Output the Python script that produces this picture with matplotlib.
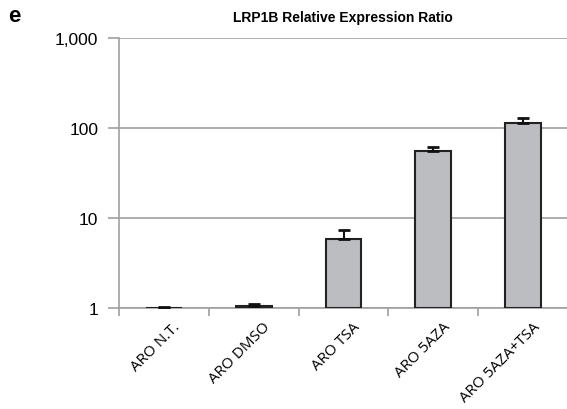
import matplotlib
matplotlib.use("Agg")
import matplotlib.pyplot as plt
import matplotlib.transforms as mtransforms
import numpy as np
from matplotlib.ticker import FixedLocator, FixedFormatter, NullLocator

categories = ["ARO N.T.", "ARO DMSO", "ARO TSA", "ARO 5AZA", "ARO 5AZA+TSA"]
values = [1.0, 1.05, 5.8, 55.0, 115.0]
errors = [0.02, 0.07, 1.5, 7.0, 13.0]
yticks = [1, 10, 100, 1000]
yticklabels = ["1", "10", "100", "1,000"]

fig = plt.figure(figsize=(5.67, 4.10), dpi=100)
ax = fig.add_axes([119/567, 1-309/410, (568-119)/567, (309-39)/410])

x = np.arange(len(categories))
base = 1.0
ax.bar(x, np.array(values) - base, bottom=base, width=0.4, color="#bcbdc0",
       edgecolor="#222222", linewidth=1.5, zorder=3)
ax.errorbar(x, values, yerr=[np.zeros(len(errors)), errors], fmt="none",
            ecolor="#111111", elinewidth=1.5, capsize=4, capthick=2, zorder=4)

ax.set_yscale("log")
ax.set_ylim(1, 1000)
ax.set_xlim(-0.5, len(categories) - 0.5)
ax.yaxis.set_major_locator(FixedLocator(yticks))
ax.yaxis.set_major_formatter(FixedFormatter(yticklabels))
ax.yaxis.set_minor_locator(NullLocator())
ax.grid(axis="y", color="#a0a0a0", linewidth=1.2, zorder=0)
ax.set_axisbelow(True)

for s in ["top", "right"]:
    ax.spines[s].set_visible(False)
for s in ["left", "bottom"]:
    ax.spines[s].set_color("#a0a0a0")
    ax.spines[s].set_linewidth(1.2)

ax.tick_params(axis="y", length=8, width=1.2, color="#a0a0a0", labelsize=12.5, pad=7)
ax.set_xticks(x)
ax.set_xticklabels(categories, rotation=45, ha="right", rotation_mode="anchor",
                   fontsize=11, family="Open Sans")
ax.tick_params(axis="x", length=0, pad=8)
offset = mtransforms.ScaledTranslation(9/100, 0, fig.dpi_scale_trans)
for lbl in ax.get_xticklabels():
    lbl.set_transform(lbl.get_transform() + offset)
ax.set_xticks(np.arange(len(categories) + 1) - 0.5, minor=True)
ax.tick_params(axis="x", which="minor", length=6, width=1.2, color="#a0a0a0")
for lbl in ax.get_yticklabels():
    lbl.set_family("Liberation Sans")

fig.text(343/567, 1-18/410, "LRP1B Relative Expression Ratio", ha="center", va="center",
         fontsize=10, fontweight="bold", family="Liberation Sans")
fig.text(8/567, 1-16/410, "e", ha="left", va="center", fontsize=16,
         fontweight="bold", family="Liberation Sans")

fig.savefig("out.png", dpi=100)
